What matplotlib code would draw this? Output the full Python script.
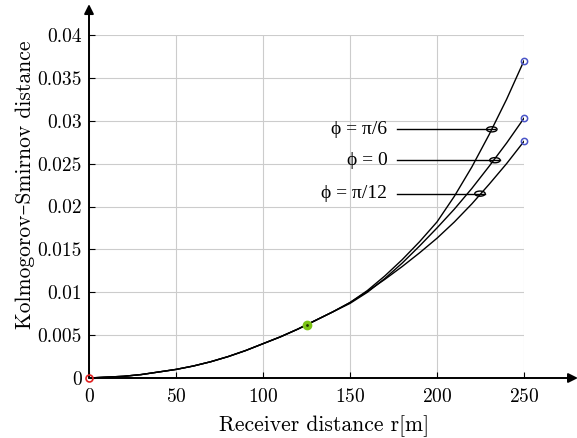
import matplotlib
matplotlib.use("Agg")
import matplotlib.pyplot as plt
from matplotlib.patches import Ellipse

plt.rcParams['font.family'] = ['cmr10', 'DejaVu Serif']
plt.rcParams['mathtext.fontset'] = 'cm'
plt.rcParams['axes.formatter.use_mathtext'] = True

# receiver distance [m]
r = [0, 10, 20, 30, 40, 50, 60, 70, 80, 90, 100, 110, 120, 130, 140, 150,
     160, 170, 180, 190, 200, 210, 220, 230, 240, 250]

# Kolmogorov-Smirnov distance for each angle
ks_pi6 = [0, 0.0001, 0.0002, 0.0004, 0.0007, 0.0010, 0.0014, 0.0019, 0.0025, 0.0032,
          0.0040, 0.0048, 0.0057, 0.0067, 0.0077, 0.0088, 0.0102, 0.0119, 0.0138,
          0.0159, 0.0182, 0.0212, 0.0246, 0.0284, 0.0325, 0.0370]
ks_0 = [0, 0.0001, 0.0002, 0.0004, 0.0007, 0.0010, 0.0014, 0.0019, 0.0025, 0.0032,
        0.0040, 0.0048, 0.0057, 0.0067, 0.0077, 0.0087, 0.0100, 0.0116, 0.0134,
        0.0154, 0.0175, 0.0197, 0.0221, 0.0247, 0.0274, 0.0303]
ks_pi12 = [0, 0.0001, 0.0002, 0.0004, 0.0007, 0.0010, 0.0014, 0.0019, 0.0025, 0.0032,
           0.0040, 0.0048, 0.0057, 0.0067, 0.0077, 0.0088, 0.0101, 0.0115, 0.0130,
           0.0146, 0.0163, 0.0182, 0.0203, 0.0226, 0.0250, 0.0276]

xticks = [0, 50, 100, 150, 200, 250]
yticks = [0, 0.005, 0.01, 0.015, 0.02, 0.025, 0.03, 0.035, 0.04]
ytick_labels = ['0', '0.005', '0.01', '0.015', '0.02', '0.025', '0.03', '0.035', '0.04']

mid_r, mid_ks = 125, 0.0062

# annotation labels: text, ellipse centre on curve, end of pointer line
labels = [r'ϕ = π/6', r'ϕ = 0', r'ϕ = π/12']
label_y = [0.0290, 0.0254, 0.0215]
ell_x = [231.5, 233.3, 224.7]
line_end = [233.5, 236.0, 227.5]

fig = plt.figure(figsize=(5.77, 4.38), dpi=100)
ax = fig.add_axes([89 / 577, 60 / 438, 435 / 577, 343 / 438])

for ks in (ks_pi6, ks_0, ks_pi12):
    ax.plot(r, ks, color='black', lw=1.0, zorder=3)
    ax.plot(r[-1], ks[-1], 'o', ms=4.5, mfc='none', mec='#4a55c8', mew=1.1,
            zorder=4, clip_on=False)

ax.plot(mid_r, mid_ks, 'o', ms=6, color='#7cc414', zorder=4)
ax.plot(mid_r, mid_ks, '.', ms=2, color='#223300', zorder=5)
ax.plot(0, 0, 'o', ms=5, mfc='none', mec='#e02020', mew=1.2, zorder=6, clip_on=False)

for txt, yy, ex, le in zip(labels, label_y, ell_x, line_end):
    ax.text(171.5, yy, txt, ha='right', va='center', fontsize=14,
            family=['Liberation Serif', 'DejaVu Serif'])
    ax.plot([177, le], [yy, yy], color='black', lw=1.0, zorder=5)
    ax.add_patch(Ellipse((ex, yy), 6, 0.0006, fill=False, ec='black', lw=1.0, zorder=5))

ax.set_xlim(0, 250)
ax.set_ylim(0, 0.04)
ax.set_xticks(xticks)
ax.set_yticks(yticks)
ax.set_yticklabels(ytick_labels)
ax.tick_params(direction='in', length=4, labelsize=14)
ax.tick_params(axis='x', pad=7)
ax.tick_params(axis='y', pad=5)
ax.grid(True, color='#cccccc', lw=0.8)
ax.set_axisbelow(True)

for s in ('top', 'right', 'left', 'bottom'):
    ax.spines[s].set_visible(False)

# axis arrows
ax.annotate('', xy=(281, 0), xytext=(0, 0), xycoords='data',
            arrowprops=dict(arrowstyle='-|>', color='black', lw=1.4,
                            mutation_scale=14, shrinkA=0, shrinkB=0),
            annotation_clip=False)
ax.annotate('', xy=(0, 0.0436), xytext=(0, 0), xycoords='data',
            arrowprops=dict(arrowstyle='-|>', color='black', lw=1.4,
                            mutation_scale=14, shrinkA=0, shrinkB=0),
            annotation_clip=False)

ax.set_xlabel('Receiver distance r[m]', fontsize=15.5)
ax.set_ylabel('Kolmogorov–Smirnov distance', fontsize=15.5)
ax.xaxis.set_label_coords((324 - 89) / 435, -0.110)
ax.yaxis.set_label_coords((35 - 89) / 435, (378 - 185) / 343)

fig.savefig('out.png', dpi=100)
